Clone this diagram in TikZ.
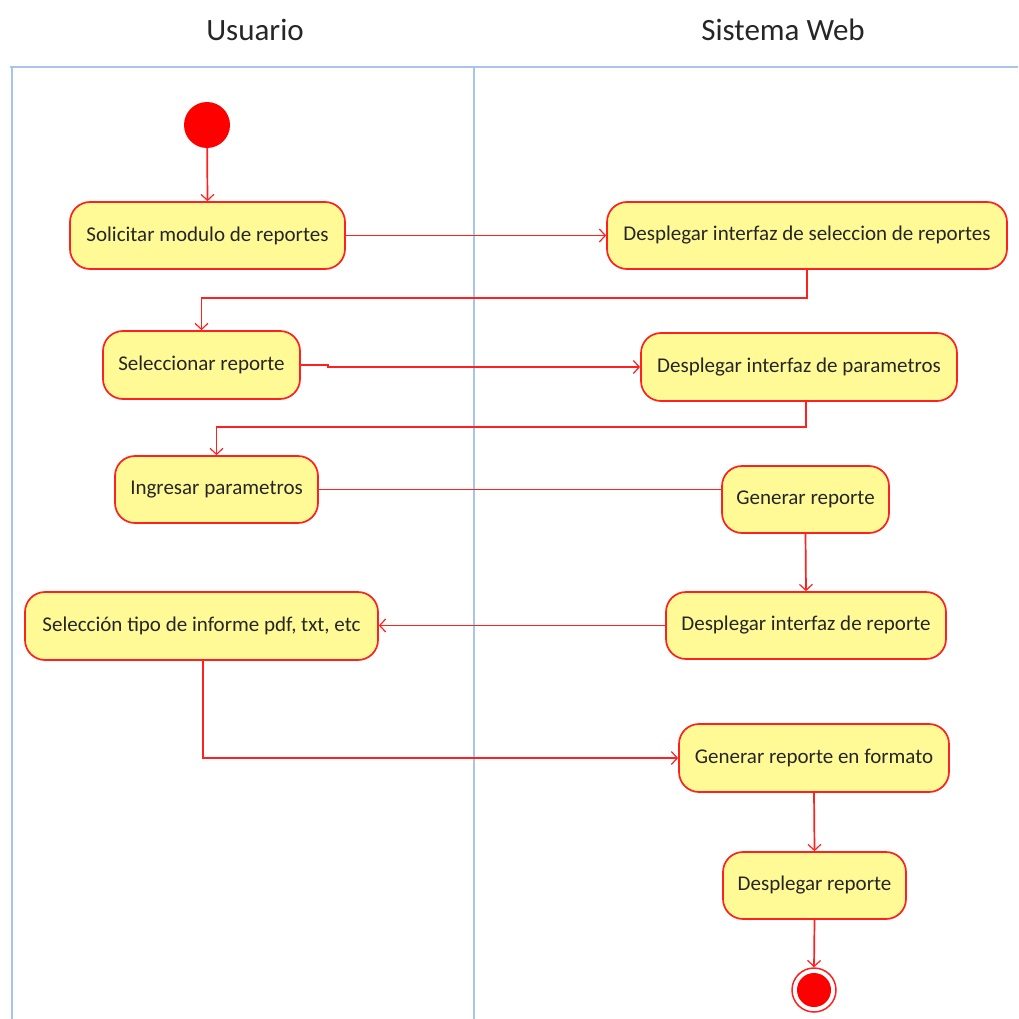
\documentclass[tikz,border=0pt]{standalone}
\usepackage{fontspec}
\setmainfont{Carlito}
\usetikzlibrary{arrows.meta}
\definecolor{lane}{HTML}{A9C4EB}
\definecolor{actfill}{HTML}{FFFA96}
\definecolor{actred}{HTML}{FF2020}
\definecolor{ink}{HTML}{262626}
\begin{document}
\begin{tikzpicture}[x=1pt,y=-1pt,
  activity/.style={draw=actred, fill=actfill, line width=1.7pt, rounded corners=20pt,
    minimum height=67pt, inner sep=0pt, text=ink, font=\fontsize{21}{24}\selectfont},
  flow/.style={draw=actred, line width=1.7pt},
  arr/.style={flow, -{Straight Barb[length=6pt,width=13pt,line width=1.2pt]}},
  header/.style={text=ink, font=\fontsize{31}{36}\selectfont}]
\useasboundingbox (0,0) rectangle (1018,1019);

% swimlanes
\draw[lane, line width=1.7pt] (10,67) -- (1018,67);
\draw[lane, line width=1.5pt] (12,67) -- (12,1019);
\draw[lane, line width=1.5pt] (474,67) -- (474,1019);
\node[header] (hu) at (255,30) {Usuario};
\node[header] (hs) at (783,30) {Sistema Web};

% initial and final states
\node[circle, fill=red, minimum size=46pt, inner sep=0pt] (start) at (207,125) {};
\node[circle, draw=actred, line width=1.5pt, minimum size=44pt, inner sep=0pt] (finish) at (814,990) {};
\node[circle, fill=red, minimum size=34pt, inner sep=0pt] (finishdot) at (814,990) {};

% activities
\node[activity, minimum width=275pt] (n1) at (207.5,235.5) {Solicitar modulo de reportes};
\node[activity, minimum width=400pt] (n2) at (807,235.5) {Desplegar interfaz de seleccion de reportes};
\node[activity, minimum width=197pt, minimum height=68pt] (n3) at (201.5,365) {Seleccionar reporte};
\node[activity, minimum width=316pt, minimum height=68pt] (n4) at (799,367) {Desplegar interfaz de parametros};
\node[activity, minimum width=203pt] (n5) at (216.5,489.5) {Ingresar parametros};
\node[activity, minimum width=167pt] (n6) at (805.5,499.5) {Generar reporte};
\node[activity, minimum width=280pt] (n7) at (806,625.5) {Desplegar interfaz de reporte};
\node[activity, minimum width=353pt, minimum height=68pt] (n8) at (201.5,626) {Selección tipo de informe pdf, txt, etc};
\node[activity, minimum width=270pt, minimum height=68pt] (n9) at (814,758) {Generar reporte en formato};
\node[activity, minimum width=183pt] (n10) at (814.5,885.5) {Desplegar reporte};

% control flows
\draw[arr] (start) -- (n1.north);
\draw[arr] (n1.east) -- (n2.west);
\draw[arr] (n2.south) -- ++(0,28) -| (n3.north);
\draw[arr] (n3.east) -- ++(27,0) -- ++(0,2) -- (n4.west);
\draw[arr] ([xshift=7pt]n4.south) -- ++(0,25) -| (n5.north);
\draw[flow] (n5.east) -- (n5.east -| n6.west);
\draw[arr] (n6.south) -- (n7.north);
\draw[arr] (n7.west) -- (n7.west -| n8.east);
\draw[arr] ([xshift=1.5pt]n8.south) |- (n9.west);
\draw[arr] (n9.south) -- (n10.north);
\draw[arr] (n10.south) -- (finish.north);
\end{tikzpicture}
\end{document}
